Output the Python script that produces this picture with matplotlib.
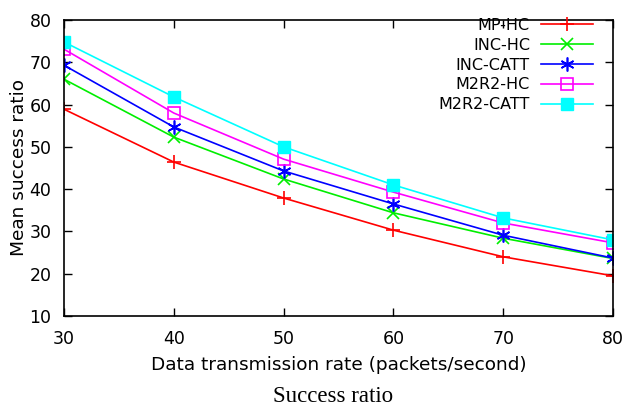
import matplotlib.pyplot as plt

# Data
rate = [30, 40, 50, 60, 70, 80]
mp_hc = [58.9, 46.4, 37.9, 30.3, 24.0, 19.5]
inc_hc = [66.0, 52.3, 42.4, 34.4, 28.4, 23.6]
inc_catt = [69.3, 54.7, 44.3, 36.5, 29.1, 23.7]
m2r2_hc = [73.1, 58.0, 47.1, 39.3, 32.0, 27.3]
m2r2_catt = [74.8, 61.8, 50.0, 41.0, 33.2, 28.0]

fig = plt.figure(figsize=(6.27, 4.12), dpi=100)
ax = fig.add_axes([64 / 627, 1 - 316 / 412, (613 - 64) / 627, (316 - 20) / 412])

ax.plot(rate, mp_hc, color='red', marker='+', ms=10, mew=1.2, lw=1.2, label='MP-HC')
ax.plot(rate, inc_hc, color='#00ee00', marker='x', ms=8, mew=1.2, lw=1.2, label='INC-HC')
ax.plot(rate, inc_catt, color='blue', marker=(6, 2, 0), ms=10, mew=1.2, lw=1.2, label='INC-CATT')
ax.plot(rate, m2r2_hc, color='magenta', marker='s', ms=8, mfc='none', mew=1.2, lw=1.2, label='M2R2-HC')
ax.plot(rate, m2r2_catt, color='cyan', marker='s', ms=9, lw=1.2, label='M2R2-CATT')

ax.set_xlim(30, 80)
ax.set_ylim(10, 80)
ax.set_xticks(rate)
ax.set_yticks(range(10, 81, 10))
ax.tick_params(direction='in', top=True, right=True, length=6, labelsize=12.5, width=1)
ax.tick_params(axis='x', pad=10)
ax.tick_params(axis='y', pad=9)
for s in ax.spines.values():
    s.set_linewidth(1.2)

ax.set_xlabel('Data transmission rate (packets/second)', fontsize=13.3, labelpad=6)
ax.set_ylabel('Mean success ratio', fontsize=13.3, labelpad=1)

ax.legend(loc='upper right', frameon=False, markerfirst=False, fontsize=11.5,
          handlelength=3.25, handletextpad=0.7, labelspacing=0.3,
          borderpad=0, borderaxespad=0,
          bbox_to_anchor=((593 - 64) / 549, (316 - 18) / 296))

fig.text(333 / 627, 1 - 397 / 412, 'Success ratio', ha='center', va='center',
         fontsize=16.5, family='Liberation Serif')

fig.savefig('out.png', dpi=100)
